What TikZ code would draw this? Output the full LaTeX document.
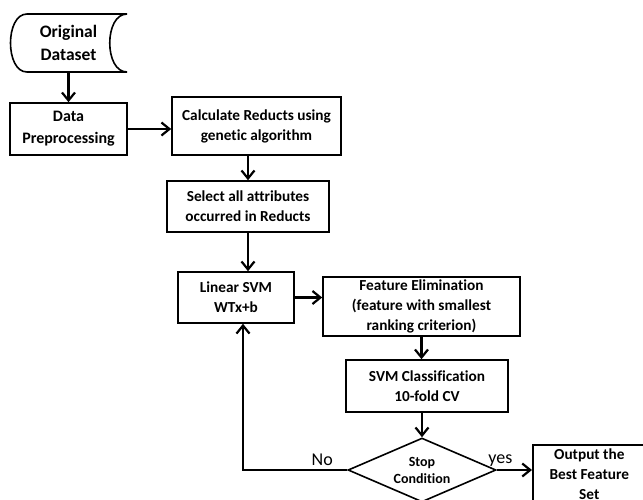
\documentclass[tikz,border=0pt]{standalone}
\usepackage{fontspec}
\setmainfont{Carlito}[Ligatures=NoCommon]
\usetikzlibrary{shapes.geometric, arrows.meta, positioning}

\tikzset{
  procbox/.style={draw, line width=1.6pt, align=center, inner sep=2pt,
    font=\bfseries\fontsize{15.3}{20}\selectfont},
  decision/.style={diamond, draw, line width=1.6pt, align=center, inner sep=0pt,
    aspect=2.3, minimum width=148pt, minimum height=64pt,
    font=\bfseries\fontsize{14}{17}\selectfont},
  flow/.style={line width=2.2pt, -{Straight Barb[length=8pt,width=13pt,line width=2.2pt]}},
  flowlabel/.style={font=\fontsize{18}{20}\selectfont, inner sep=1pt},
}

\begin{document}
\begin{tikzpicture}[x=1pt,y=-1pt]
  \useasboundingbox (0,0) rectangle (643,499);
  \clip (0,0) rectangle (643,499);

  % stored data shape
  \draw[line width=1.6pt] (27,14) -- (127,14)
    .. controls (104,14) and (104,72) .. (127,72) -- (27,72)
    .. controls (5,72) and (5,14) .. (27,14) -- cycle;
  \node[font=\bfseries\fontsize{17.5}{23}\selectfont, align=center,
    minimum width=117pt, minimum height=58pt, inner sep=0pt] (orig) at (68.5,43) {Original\\Dataset};

  \node[procbox, font=\bfseries\fontsize{16}{22}\selectfont, minimum width=117pt, minimum height=52pt] (prep) at (68.5,129) {Data\\Preprocessing};
  \node[procbox, minimum width=169pt, minimum height=58pt] (reducts) at (256.5,126) {Calculate Reducts using\\genetic algorithm};
  \node[procbox, minimum width=162pt, minimum height=51pt] (select) at (248,206.5) {Select all attributes\\occurred in Reducts};
  \node[procbox, minimum width=116pt, minimum height=51pt] (svm) at (236,297.5) {Linear SVM\\WTx+b};
  \node[procbox, minimum width=197pt, minimum height=59pt] (elim) at (421.5,306.5) {Feature Elimination\\(feature with smallest\\ranking criterion)};
  \node[procbox, minimum width=162pt, minimum height=52pt] (classif) at (427,386) {SVM Classification\\10-fold CV};
  \node[decision] (stop) at (422,470) {Stop\\Condition};
  \node[procbox, anchor=north west, minimum width=113pt, inner sep=4pt] (output) at (532,444) {Output the\\Best Feature\\Set};

  \coordinate (turn) at (243,470);

  \draw[flow] (orig) -- (prep);
  \draw[flow] (prep.east) -- (prep.east -| reducts.west);
  \draw[flow] (reducts.south -| select.north) -- (select.north);
  \draw[flow] (select.south) -- (select.south |- svm.north);
  \draw[flow] (svm.east) -- (svm.east -| elim.west);
  \draw[flow] (elim.south) -- (elim.south |- classif.north);
  \draw[flow] (classif.south -| stop.north) -- (stop.north);
  \draw[flow] (stop.east) -- (stop.east -| output.west)
    node[flowlabel, pos=0.1, above=2pt] (yeslbl) {yes};
  \draw[flow] (stop.west) -- (turn)
    node[flowlabel, pos=0.24, above=2pt] (nolbl) {No}
    -- (turn |- svm.south);
\end{tikzpicture}
\end{document}
